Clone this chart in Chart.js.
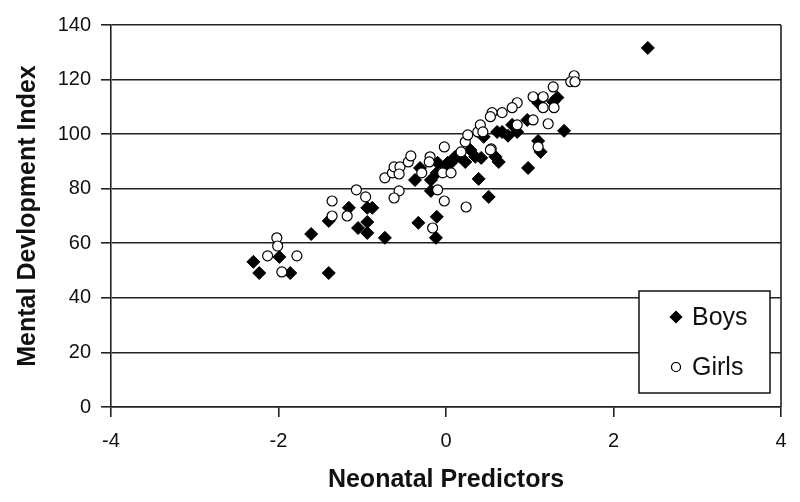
<!DOCTYPE html>
<html lang="en">
<head>
    <meta charset="UTF-8">
    <title>Mental Development vs Neonatal Predictors</title>
    <script src="https://cdn.jsdelivr.net/npm/chart.js"></script>
    <style>
        html, body { margin: 0; padding: 0; background: #fff; }
        .chart-box { position: relative; width: 800px; height: 502px; }
    </style>
</head>
<body>

<div class="chart-box">
    <canvas id="scatterChart"></canvas>
</div>

<script>
    // Values
    const boysX = [2.41, -2.30, -2.23, -1.99, -1.86, -1.40, -1.61, -1.40, -1.05, -0.94,
        -0.73, -0.94, -1.16, -0.94, -0.88, -0.37, -0.33, -0.11, -0.12, -0.18,
        -0.11, -0.10, -0.01, 0.02, 0.07, 0.11, 0.17, 0.23, 0.29, 0.35,
        0.42, 0.63, 0.59, 0.39, 0.45, 0.61, 0.74, 0.85, 0.98, -0.18,
        0.51, 0.67, 0.79, 0.97, 1.10, 1.28, 1.33, 1.41, 1.10, 1.13, -0.31];
    const boysY = [131.6, 53.2, 49.1, 55.0, 49.1, 49.1, 63.4, 68.2, 65.6, 63.8,
        62.0, 67.8, 73.0, 73.0, 73.0, 83.2, 67.5, 69.7, 62.0, 83.2,
        85.8, 89.5, 88.0, 89.5, 89.8, 91.7, 91.7, 89.8, 94.2, 91.7,
        91.3, 89.8, 91.7, 83.6, 99.0, 100.8, 99.4, 100.8, 87.6, 79.2,
        77.0, 100.8, 103.4, 105.2, 111.5, 111.9, 113.4, 101.2, 97.5, 93.5, 87.6];

    const girlsX = [-2.02, -2.01, -2.13, -1.78, -1.96, -1.36, -1.36, -1.18, -1.07, -0.96,
        -0.73, -0.64, -0.62, -0.55, -0.56, -0.45, -0.42, -0.56, -0.62, -0.29,
        -0.02, -0.19, -0.20, -0.04, 0.06, 0.18, 0.23, 0.26, 0.38, 0.54,
        -0.10, -0.02, 0.24, -0.16, 1.04, 1.16, 1.16, 0.85, 0.79, 0.67,
        0.55, 0.53, 0.41, 0.44, 0.85, 1.04, 1.22, 0.53, 1.10, 1.53,
        1.49, 1.54, 1.28, 1.29];
    const girlsY = [62.0, 59.0, 55.4, 55.4, 49.5, 75.5, 70.0, 70.0, 79.6, 77.0,
        84.0, 85.8, 88.0, 88.0, 85.4, 89.8, 92.0, 79.2, 76.6, 85.8,
        95.3, 91.7, 89.8, 85.8, 85.8, 93.5, 97.2, 99.7, 100.8, 94.6,
        79.6, 75.5, 73.3, 65.6, 113.7, 113.7, 109.7, 111.5, 109.7, 107.9,
        107.9, 106.4, 103.4, 100.8, 103.4, 105.2, 103.8, 94.2, 95.3, 121.4,
        119.2, 119.2, 117.3, 109.7];

    const xTicks = [-4, -2, 0, 2, 4];
    const yTicks = [0, 20, 40, 60, 80, 100, 120, 140];
    const seriesNames = ["Boys", "Girls"];

    const FONT = "'Liberation Sans', Arial, sans-serif";

    function toPoints(xs, ys) {
        return xs.map((x, i) => ({ x: x, y: ys[i] }));
    }

    // Frame on the right and the boxed legend inside the plot
    const frameAndLegend = {
        id: "frameAndLegend",
        afterDraw(chart) {
            const ctx = chart.ctx;
            const area = chart.chartArea;
            ctx.save();
            ctx.strokeStyle = "#222";
            ctx.lineWidth = 1.6;
            ctx.beginPath();
            ctx.moveTo(area.right, area.top);
            ctx.lineTo(area.right, area.bottom);
            ctx.stroke();

            // legend box
            const bx = 639, by = 291, bw = 131, bh = 102;
            ctx.fillStyle = "#fff";
            ctx.fillRect(bx, by, bw, bh);
            ctx.strokeStyle = "#111";
            ctx.lineWidth = 1.5;
            ctx.strokeRect(bx, by, bw, bh);

            const rows = [317, 367];
            chart.data.datasets.forEach((ds, i) => {
                Chart.helpers.drawPoint(ctx, {
                    pointStyle: ds.pointStyle,
                    radius: i === 0 ? 5.5 : 4.5,
                    borderWidth: ds.borderWidth
                }, 676, rows[i]);
                ctx.fillStyle = ds.backgroundColor;
                ctx.strokeStyle = ds.borderColor;
                ctx.lineWidth = ds.borderWidth;
                ctx.fill();
                ctx.stroke();

                ctx.fillStyle = "#111";
                ctx.font = "25px " + FONT;
                ctx.textAlign = "left";
                ctx.textBaseline = "middle";
                ctx.fillText(ds.label, 692, rows[i] + 1);
            });
            ctx.restore();
        }
    };

    const ctx = document.getElementById("scatterChart").getContext("2d");
    new Chart(ctx, {
        type: "scatter",
        data: {
            datasets: [
                {
                    label: seriesNames[0],
                    data: toPoints(boysX, boysY),
                    pointStyle: "rectRot",
                    pointRadius: 6.5,
                    backgroundColor: "#000",
                    borderColor: "#000",
                    borderWidth: 1,
                    order: 2
                },
                {
                    label: seriesNames[1],
                    data: toPoints(girlsX, girlsY),
                    pointStyle: "circle",
                    pointRadius: 5,
                    backgroundColor: "#fff",
                    borderColor: "#000",
                    borderWidth: 1.2,
                    order: 1
                }
            ]
        },
        options: {
            responsive: true,
            maintainAspectRatio: false,
            animation: false,
            events: [],
            layout: { padding: { top: 25, right: 19, left: 0, bottom: 0 } },
            plugins: {
                legend: { display: false },
                tooltip: { enabled: false }
            },
            scales: {
                x: {
                    type: "linear",
                    min: -4,
                    max: 4,
                    afterFit: scale => { scale.height = 95; },
                    afterBuildTicks: scale => { scale.ticks = xTicks.map(v => ({ value: v })); },
                    ticks: {
                        color: "#111",
                        padding: 12,
                        font: { family: FONT, size: 20 }
                    },
                    grid: {
                        drawOnChartArea: false,
                        drawTicks: true,
                        tickLength: 10,
                        color: "#222",
                        lineWidth: 1.6
                    },
                    border: { display: true, color: "#222", width: 1.6 },
                    title: {
                        display: true,
                        text: "Neonatal Predictors",
                        color: "#111",
                        padding: { top: 0, bottom: 7 },
                        font: { family: FONT, size: 25, weight: "bold" }
                    }
                },
                y: {
                    type: "linear",
                    min: 0,
                    max: 140,
                    afterFit: scale => { scale.width = 111; },
                    afterBuildTicks: scale => { scale.ticks = yTicks.map(v => ({ value: v })); },
                    ticks: {
                        color: "#111",
                        padding: 10,
                        font: { family: FONT, size: 20 }
                    },
                    grid: {
                        drawTicks: true,
                        tickLength: 10,
                        color: "#222",
                        lineWidth: 1.6
                    },
                    border: { display: true, color: "#222", width: 1.6 },
                    title: {
                        display: true,
                        text: "Mental Devlopment Index",
                        color: "#111",
                        padding: { top: 13, bottom: 0 },
                        font: { family: FONT, size: 25, weight: "bold" }
                    }
                }
            }
        },
        plugins: [frameAndLegend]
    });
</script>

</body>
</html>
